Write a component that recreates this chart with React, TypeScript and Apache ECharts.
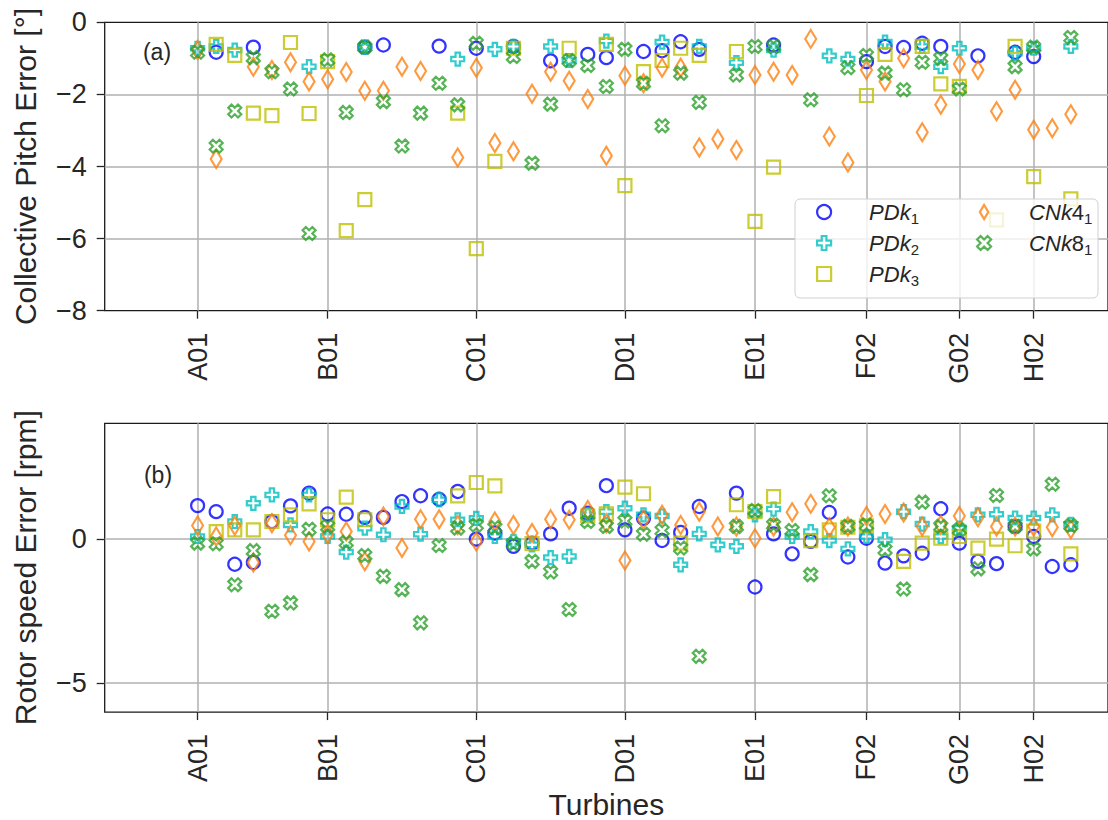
import React, { useEffect, useRef } from "react";
import * as echarts from "echarts";

const turbines = [
  "A01", "A02", "A03", "A04", "A05", "A06", "A07",
  "B01", "B02", "B03", "B04", "B05", "B06", "B07", "B08",
  "C01", "C02", "C03", "C04", "C05", "C06", "C07", "C08",
  "D01", "D02", "D03", "D04", "D05", "D06", "D07",
  "E01", "E02", "E03", "E04", "E05", "E06",
  "F02", "F03", "F04", "F05", "F06",
  "G02", "G03", "G04", "G05",
  "H02", "H03", "H04",
];
const labelledTurbines = ["A01", "B01", "C01", "D01", "E01", "F02", "G02", "H02"];

const seriesNames = ["PDk1", "PDk2", "PDk3", "CNk4", "CNk8"];

// Panel (a): collective pitch error [deg]
const pitchPDk1 = [null, -0.83, null, -0.69, null, null, null, null, null, -0.69, -0.63, null, null, -0.66, null, -0.72, null, -0.67, null, -1.07, null, -0.89, -0.98, null, -0.81, -0.79, -0.54, -0.75, null, null, null, -0.63, null, null, null, null, -1.09, -0.67, -0.70, -0.58, -0.67, null, -0.93, null, -0.83, -0.95, null, null];
const pitchPDk2 = [-0.72, -0.67, -0.77, null, null, null, -1.23, null, null, -0.69, null, null, null, null, -1.02, null, -0.75, -0.67, null, -0.67, -1.06, null, -0.52, null, null, -0.55, null, -0.67, null, -1.12, null, -0.77, null, null, -0.93, -1.02, null, -0.55, null, -0.67, -1.23, -0.72, null, null, -0.86, -0.72, null, -0.67];
const pitchPDk3 = [null, -0.61, -0.92, -2.52, -2.59, -0.56, -2.53, -1.09, -5.78, -4.92, null, null, null, null, -2.52, -6.28, -3.86, -0.72, null, null, -0.72, null, -0.61, -4.53, -1.37, -1.06, -0.72, -0.92, null, -0.81, -5.52, -4.02, null, null, null, null, -2.03, -0.89, null, -0.67, -1.71, -1.78, null, -5.48, -0.67, -4.28, null, -4.90];
const pitchCNk4 = [-0.77, -3.79, null, -1.23, -1.32, -1.11, -1.64, -1.58, -1.38, -1.90, -1.90, -1.23, -1.35, null, -3.75, -1.26, -3.35, -3.58, -1.98, -1.37, -1.62, -2.13, -3.70, -1.48, -1.69, -1.26, -1.26, -3.47, -3.24, -3.54, -1.46, -1.37, -1.46, -0.46, -3.17, -3.89, -1.32, -1.64, -1.00, -3.05, -2.29, -1.16, -1.32, -2.47, -1.87, -2.98, -2.94, -2.55];
const pitchCNk8 = [-0.83, -3.44, -2.46, -0.98, -1.37, -1.85, -5.86, -1.04, -2.50, -0.69, -2.20, -3.43, -2.52, -1.69, -2.29, -0.58, null, -0.95, -3.91, -2.27, -1.06, -1.20, -1.78, -0.75, -1.69, -2.87, -1.41, -2.22, null, -1.46, -0.67, -0.67, null, -2.15, null, -1.26, -0.92, -1.41, -1.87, -1.11, -1.00, -1.85, null, null, -1.23, -0.69, null, -0.42];

// Panel (b): rotor speed error [rpm]
const speedPDk1 = [1.15, 0.94, -0.88, -0.82, 0.60, 1.14, 1.58, 0.86, 0.85, 0.74, 0.74, 1.29, 1.49, 1.37, 1.64, -0.01, 0.20, -0.26, -0.15, 0.17, 1.06, 0.89, 1.84, 0.31, 0.71, -0.06, 0.22, 1.12, null, 1.58, -1.67, 0.17, -0.52, -0.09, 0.91, -0.63, 0.02, -0.84, -0.59, -0.50, 1.04, -0.15, -0.78, -0.86, 0.43, 0.08, -0.96, -0.90];
const speedPDk2 = [0.08, null, 0.60, 1.23, 1.52, 0.48, 1.52, 0.08, -0.46, 0.37, 0.14, 1.12, 0.16, 1.35, 0.66, 0.71, 0.08, -0.09, -0.21, -0.65, -0.61, 0.83, 0.94, 1.06, 0.83, 0.79, -0.90, 0.17, -0.21, -0.26, 0.83, 1.03, 0.08, 0.25, -0.06, -0.35, 0.08, -0.03, 0.94, 0.51, 0.08, 0.37, 0.83, 0.85, 0.72, 0.72, 0.83, 0.50];
const speedPDk3 = [null, 0.25, 0.31, 0.31, 0.60, 0.83, 1.21, 0.66, 1.44, 0.66, null, null, null, null, 1.49, 1.95, 1.83, null, -0.17, null, null, 0.79, 0.86, 1.79, 1.56, null, -0.15, null, null, 1.18, 0.94, 1.46, null, -0.06, 0.31, 0.40, 0.45, null, -0.78, -0.15, 0.02, 0.08, -0.32, -0.01, -0.24, 0.27, null, -0.52];
const speedCNk4 = [0.46, 0.08, 0.45, -0.82, 0.54, 0.12, -0.09, 0.17, 0.25, -0.78, 0.77, -0.32, 0.68, 0.68, 0.48, -0.09, 0.60, 0.48, 0.20, 0.68, 0.66, 1.00, 0.54, -0.75, 0.66, 0.83, 0.48, 0.94, 0.43, 0.43, 0.02, 0.43, 0.92, 1.21, 0.40, 0.43, 0.79, 0.86, 0.91, 0.43, 0.48, 0.79, 0.75, 0.43, 0.43, 0.43, 0.40, 0.33];
const speedCNk8 = [-0.15, -0.17, -1.59, -0.41, -2.51, -2.22, 0.33, 0.43, -0.12, -0.58, -1.30, -1.76, -2.91, -0.23, 0.37, 0.48, 0.39, -0.17, -0.78, -1.15, -2.45, 0.60, 0.43, 0.62, 0.16, 0.29, -0.32, -4.07, null, 0.43, 0.98, 0.48, 0.29, -1.24, 1.49, 0.43, 0.48, -0.38, -1.74, 1.27, 0.43, 0.31, -1.04, 1.50, 0.43, -0.35, 1.89, 0.46];

const pitchData = [pitchPDk1, pitchPDk2, pitchPDk3, pitchCNk4, pitchCNk8];
const speedData = [speedPDk1, speedPDk2, speedPDk3, speedCNk4, speedCNk8];

const FONT = "'Liberation Sans', Arial, Helvetica, sans-serif";
const TEXT = "#262626";
const GRID = "#b0b0b0";

const styles: Record<string, { symbol: string; size: number | number[]; color: string }> = {
  PDk1: { symbol: "circle", size: 13, color: "#0000ff" },
  PDk2: {
    symbol: "path://M-1,-3L1,-3L1,-1L3,-1L3,1L1,1L1,3L-1,3L-1,1L-3,1L-3,-1L-1,-1Z",
    size: 13,
    color: "#00bfbf",
  },
  PDk3: { symbol: "rect", size: 13, color: "#bfbf00" },
  CNk4: { symbol: "path://M0,-5L3,0L0,5L-3,0Z", size: [11, 18], color: "#ff7f0e" },
  CNk8: {
    symbol: "path://M-1,-2L0,-1L1,-2L2,-1L1,0L2,1L1,2L0,1L-1,2L-2,1L-1,0L-2,-1Z",
    size: 13,
    color: "#2ca02c",
  },
};

const legendText: Record<string, string> = {
  PDk1: "{i|PDk}{s|1}",
  PDk2: "{i|PDk}{s|2}",
  PDk3: "{i|PDk}{s|3}",
  CNk4: "{i|CNk}{n|4}{s|1}",
  CNk8: "{i|CNk}{n|8}{s|1}",
};

function toPoints(arr: (number | null)[]) {
  const out: number[][] = [];
  arr.forEach((v, i) => {
    if (v !== null && v !== undefined) out.push([i, v]);
  });
  return out;
}

const minusFmt = (v: number) => (v < 0 ? "\u2212" + Math.abs(v) : String(v));

export default function App() {
  const ref = useRef<HTMLDivElement>(null);

  useEffect(() => {
    if (!ref.current) return;
    const chart = echarts.init(ref.current, undefined, { renderer: "svg" });
    const tickIdx = labelledTurbines.map((n) => turbines.indexOf(n));

    const xAxisBase = (gridIndex: number) => ({
      type: "value",
      gridIndex,
      min: -5,
      max: 49,
      position: "bottom",
      axisLine: { show: false, onZero: false },
      axisTick: { show: true, customValues: tickIdx, length: 8, lineStyle: { color: TEXT, width: 1.3 } },
      axisLabel: {
        customValues: tickIdx,
        rotate: 90,
        margin: 22,
        formatter: (v: number) => turbines[Math.round(v)] ?? "",
        fontSize: 27,
        color: TEXT,
        fontFamily: FONT,
      },
      splitLine: { show: true, lineStyle: { color: GRID, width: 1.5 } },
    });

    const legendItem = (n: string) => ({
      name: n,
      icon: styles[n].symbol,
      itemStyle: { color: "rgba(0,0,0,0)", borderColor: styles[n].color, borderWidth: 2.2 },
    });
    const legendBase = {
      orient: "vertical",
      top: 201,
      itemWidth: 14,
      itemHeight: 14,
      itemGap: 6,
      padding: 0,
      z: 10,
      formatter: (name: string) => legendText[name],
      textStyle: {
        padding: [0, 0, 0, 33],
        color: TEXT,
        rich: {
          i: { fontSize: 22, fontStyle: "italic", fontFamily: FONT, color: TEXT, lineHeight: 28 },
          n: { fontSize: 22, fontFamily: FONT, color: TEXT, lineHeight: 28 },
          s: { fontSize: 15, fontFamily: FONT, color: TEXT, lineHeight: 12, verticalAlign: "bottom" },
        },
      },
    };

    const series: any[] = [];
    [pitchData, speedData].forEach((panel, p) => {
      panel.forEach((arr, k) => {
        const name = seriesNames[k];
        const st = styles[name];
        series.push({
          type: "scatter",
          name,
          xAxisIndex: p,
          yAxisIndex: p,
          symbol: st.symbol,
          symbolSize: st.size,
          itemStyle: { color: "rgba(0,0,0,0)", borderColor: st.color, borderWidth: 2.2 },
          emphasis: { disabled: true },
          data: toPoints(arr),
        });
      });
    });

    const yName = (text: string) => ({
      name: text,
      nameLocation: "middle",
      nameGap: 64,
      nameTextStyle: { fontSize: 30, color: TEXT, fontFamily: FONT },
    });

    chart.setOption({
      animation: false,
      backgroundColor: "#ffffff",
      textStyle: { fontFamily: FONT },
      grid: [
        { left: 104.7, top: 22.3, width: 1008.7, height: 288.4, show: true, borderColor: "#1a1a1a", borderWidth: 1.3, backgroundColor: "transparent" },
        { left: 104.7, top: 423.3, width: 1008.7, height: 289.4, show: true, borderColor: "#1a1a1a", borderWidth: 1.3, backgroundColor: "transparent" },
      ],
      xAxis: [
        xAxisBase(0),
        {
          ...xAxisBase(1),
          name: "Turbines",
          nameLocation: "middle",
          nameGap: 73,
          nameTextStyle: { fontSize: 30, color: TEXT, fontFamily: FONT },
        },
      ],
      yAxis: [
        {
          type: "value",
          gridIndex: 0,
          min: -8,
          max: 0,
          interval: 2,
          position: "left",
          ...yName("Collective Pitch Error [°]"),
          axisLine: { show: false, onZero: false },
          axisTick: { show: true, length: 8, lineStyle: { color: TEXT, width: 1.3 } },
          axisLabel: { margin: 18, fontSize: 27, color: TEXT, fontFamily: FONT, formatter: minusFmt },
          splitLine: { show: true, showMinLine: false, showMaxLine: false, lineStyle: { color: GRID, width: 1.5 } },
        },
        {
          type: "value",
          gridIndex: 1,
          min: -6,
          max: 4,
          position: "left",
          ...yName("Rotor speed Error [rpm]"),
          axisLine: { show: false, onZero: false },
          axisTick: { show: true, customValues: [-5, 0], length: 8, lineStyle: { color: TEXT, width: 1.3 } },
          axisLabel: { customValues: [-5, 0], margin: 18, fontSize: 27, color: TEXT, fontFamily: FONT, formatter: minusFmt },
          splitLine: { show: true, lineStyle: { color: GRID, width: 1.5 } },
        },
      ],
      legend: [
        { ...legendBase, left: 816, data: ["PDk1", "PDk2", "PDk3"].map(legendItem) },
        { ...legendBase, left: 976, data: ["CNk4", "CNk8"].map(legendItem) },
      ],
      graphic: [
        {
          type: "rect",
          z: 5,
          shape: { x: 795, y: 199, width: 303, height: 99, r: 5 },
          style: { fill: "rgba(255,255,255,0.8)", stroke: "#d0d0d0", lineWidth: 1 },
        },
        {
          type: "text",
          x: 157,
          y: 52,
          style: { text: "(a)", fontSize: 23, fill: TEXT, fontFamily: FONT, align: "center", verticalAlign: "middle" },
        },
        {
          type: "text",
          x: 158,
          y: 475,
          style: { text: "(b)", fontSize: 23, fill: TEXT, fontFamily: FONT, align: "center", verticalAlign: "middle" },
        },
      ],
      series,
    });

    return () => chart.dispose();
  }, []);

  return (
    <div
      ref={ref}
      style={{ position: "absolute", left: 0, top: 0, width: 1108, height: 820, background: "#fff" }}
    />
  );
}
